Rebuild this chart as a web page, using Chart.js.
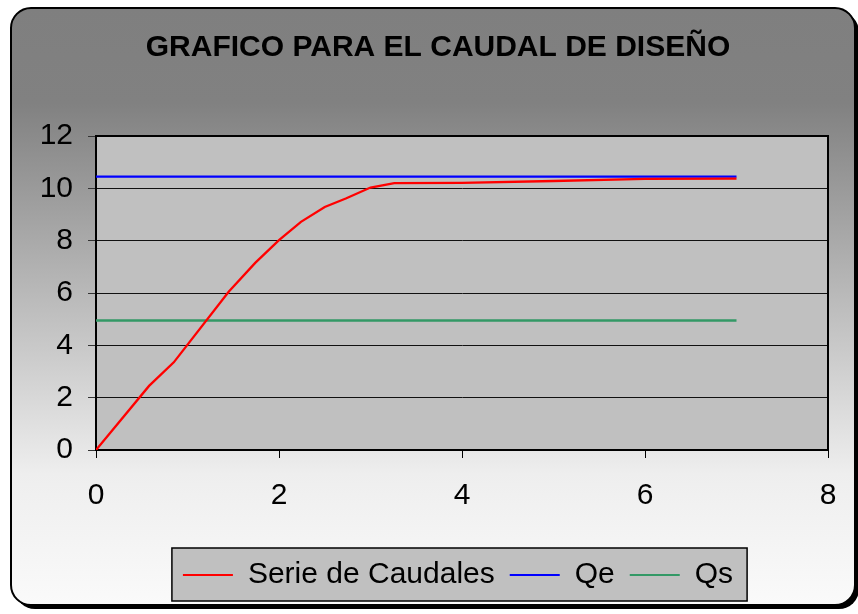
<!DOCTYPE html>
<html>
<head>
<meta charset="utf-8">
<title>Caudal de diseño</title>
<script src="https://cdn.jsdelivr.net/npm/chart.js@4/dist/chart.umd.min.js"></script>
<style>
  html, body { margin: 0; padding: 0; background: #ffffff; overflow: hidden; }
  canvas { display: block; }
</style>
</head>
<body>
<canvas id="grafico" width="858" height="614"></canvas>
<script>
// Serie de caudales (tiempo en x, caudal en y)
const tiempo   = [0, 0.58, 0.85, 1.45, 1.74, 2.0, 2.24, 2.5, 2.73, 3.0, 3.26, 4.0, 5.0, 6.0, 7.0];
const caudales = [0, 2.45, 3.35, 6.05, 7.15, 8.02, 8.72, 9.29, 9.61, 10.03, 10.2, 10.21, 10.28, 10.36, 10.37];

// Caudales de referencia, constantes en todo el intervalo
const rangoQ = [0, 7];
const qe = [10.45, 10.45];
const qs = [4.95, 4.95];

// Marcas de los ejes
const ticksX = [0, 2, 4, 6, 8];
const ticksY = [0, 2, 4, 6, 8, 10, 12];

const nombres = ['Serie de Caudales', 'Qe', 'Qs'];
const colores = ['#ff0000', '#0000ff', '#339966'];

const FONT = "'Liberation Sans', Arial, sans-serif";
Chart.defaults.font.family = FONT;
Chart.defaults.color = '#000000';

const toPoints = (xs, ys) => xs.map((x, i) => ({ x: x, y: ys[i] }));

function roundRect(ctx, x, y, w, h, r) {
  ctx.beginPath();
  ctx.moveTo(x + r, y);
  ctx.lineTo(x + w - r, y);
  ctx.arcTo(x + w, y, x + w, y + r, r);
  ctx.lineTo(x + w, y + h - r);
  ctx.arcTo(x + w, y + h, x + w - r, y + h, r);
  ctx.lineTo(x + r, y + h);
  ctx.arcTo(x, y + h, x, y + h - r, r);
  ctx.lineTo(x, y + r);
  ctx.arcTo(x, y, x + r, y, r);
  ctx.closePath();
}

// Marco redondeado con degradado, fondo gris del área de trazado y recuadro de la leyenda
const marco = {
  id: 'marco',
  afterLayout(chart) {
    // el título y la leyenda se centran sobre el marco, no sobre el área de trazado
    chart.titleBlock.left += 24;
    chart.titleBlock.right += 24;
    chart.legend.left += 44;
    chart.legend.right += 44;
    chart.legend.top -= 2;
    chart.legend.bottom -= 2;
  },
  beforeDraw(chart) {
    const ctx = chart.ctx;
    const a = chart.chartArea;
    ctx.save();
    // sombra del marco
    ctx.fillStyle = '#000000';
    roundRect(ctx, 15, 12, 844, 597, 20);
    ctx.fill();
    // marco con degradado vertical
    const g = ctx.createLinearGradient(0, 8, 0, 605);
    g.addColorStop(0, '#7f7f7f');
    g.addColorStop(0.16, '#818181');
    g.addColorStop(0.78, '#eeeeee');
    g.addColorStop(1, '#fafafa');
    ctx.fillStyle = g;
    roundRect(ctx, 11, 8, 844, 597, 20);
    ctx.fill();
    ctx.lineWidth = 2;
    ctx.strokeStyle = '#000000';
    ctx.stroke();
    // fondo del área de trazado
    ctx.fillStyle = '#c0c0c0';
    ctx.fillRect(a.left, a.top, a.right - a.left, a.bottom - a.top);
    // recuadro de la leyenda
    const hb = chart.legend.legendHitBoxes;
    if (hb && hb.length) {
      const l = Math.min(...hb.map(b => b.left)) - 11;
      const r = Math.max(...hb.map(b => b.left + b.width)) + 14;
      const cy = hb[0].top + hb[0].height / 2;
      ctx.fillStyle = '#c0c0c0';
      ctx.fillRect(l, cy - 27, r - l, 53);
      ctx.lineWidth = 1.5;
      ctx.strokeStyle = '#000000';
      ctx.strokeRect(l, cy - 27, r - l, 53);
    }
    ctx.restore();
  },
  beforeDatasetsDraw(chart) {
    const ctx = chart.ctx;
    const a = chart.chartArea;
    ctx.save();
    ctx.lineWidth = 2;
    ctx.strokeStyle = '#000000';
    ctx.strokeRect(a.left, a.top, a.right - a.left, a.bottom - a.top);
    ctx.restore();
  }
};

const serie = (i, data) => ({
  label: nombres[i],
  data: data,
  borderColor: colores[i],
  backgroundColor: colores[i],
  borderWidth: 2.3,
  pointRadius: 0,
  pointHoverRadius: 0,
  showLine: true,
  fill: false,
  tension: 0
});

new Chart(document.getElementById('grafico'), {
  type: 'scatter',
  data: {
    datasets: [
      serie(0, toPoints(tiempo, caudales)),
      serie(1, toPoints(rangoQ, qe)),
      serie(2, toPoints(rangoQ, qs))
    ]
  },
  options: {
    responsive: false,
    animation: false,
    devicePixelRatio: 1,
    layout: { padding: { left: 0, right: 30, top: 0, bottom: 12 } },
    plugins: {
      title: {
        display: true,
        text: 'GRAFICO PARA EL CAUDAL DE DISEÑO',
        color: '#000000',
        font: { size: 30, weight: 'bold', family: FONT },
        padding: { top: 30, bottom: 70 }
      },
      legend: {
        position: 'bottom',
        labels: {
          boxWidth: 50,
          boxHeight: 2,
          padding: 15,
          color: '#000000',
          font: { size: 30, family: FONT },
          generateLabels(chart) {
            return chart.data.datasets.map((d, i) => ({
              text: d.label,
              fillStyle: d.borderColor,
              strokeStyle: d.borderColor,
              lineWidth: 0,
              hidden: false,
              datasetIndex: i
            }));
          }
        }
      },
      tooltip: { enabled: false }
    },
    scales: {
      x: {
        type: 'linear',
        min: 0,
        max: 8,
        afterBuildTicks(s) { s.ticks = ticksX.map(v => ({ value: v })); },
        afterFit(s) { s.height = 97; },
        grid: { drawOnChartArea: false, drawTicks: true, tickLength: 8, tickColor: '#000000', tickWidth: 1 },
        border: { color: '#000000', width: 2 },
        ticks: { font: { size: 30, family: FONT }, color: '#000000', padding: 20, maxRotation: 0 }
      },
      y: {
        type: 'linear',
        min: 0,
        max: 12,
        afterBuildTicks(s) { s.ticks = ticksY.map(v => ({ value: v })); },
        afterFit(s) { s.width = 96; },
        grid: { color: '#111111', lineWidth: 1, tickLength: 8, tickColor: '#333333' },
        border: { color: '#000000', width: 2 },
        ticks: { font: { size: 30, family: FONT }, color: '#000000', padding: 15 }
      }
    }
  },
  plugins: [marco]
});
</script>
</body>
</html>
